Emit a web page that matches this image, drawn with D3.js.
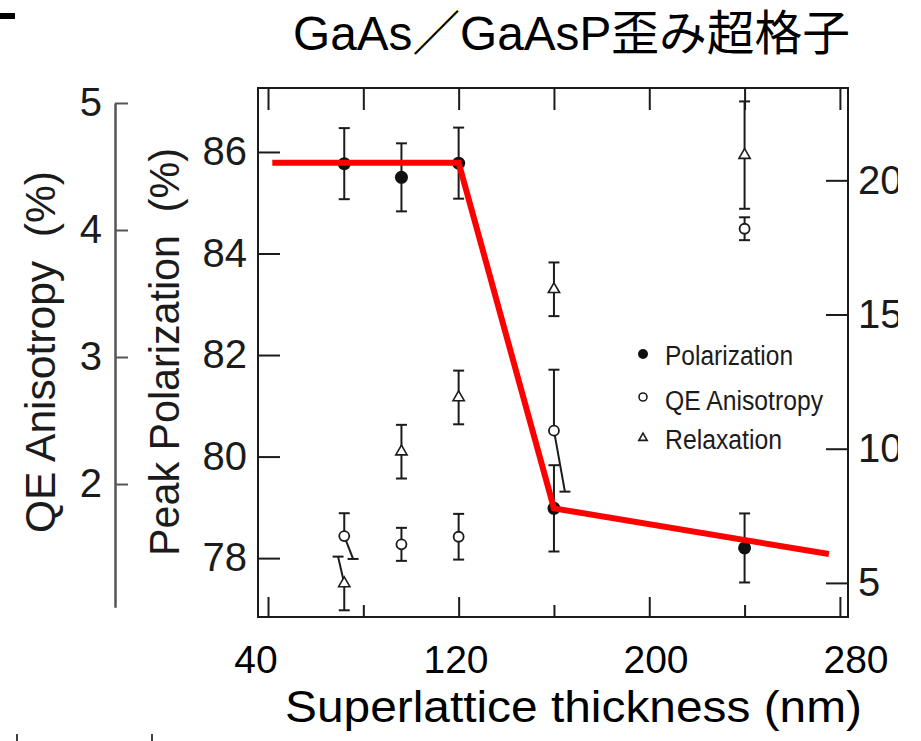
<!DOCTYPE html>
<html>
<head>
<meta charset="utf-8">
<script src="https://cdn.jsdelivr.net/npm/d3@7"></script>
<style>
    body { margin: 0; background: #fff; }
    svg { display: block; }
</style>
</head>
<body>
<div id="chart"></div>
<script>
// Data
const thickness = [72, 96, 120, 160, 240];
const polarization = [85.77, 85.5, 85.78, 78.98, 78.2];
const polarizationErr = [0.7, 0.67, 0.7, 0.85, 0.68];
const qeAnisotropy = [1.59, 1.525, 1.585, 2.42, 4.01];
const qeErr = [0.18, 0.13, 0.18, 0.48, 0.09];
const relaxation = [4.98, 9.89, 11.91, 15.94, 20.94];
const relaxationErr = [1.0, 1.0, 1.0, 1.0, 2.0];
// bars that were drawn slanted in the scan (end shifted in nm)
const qeLowShift = [3.7, 0, 0, 4.6, 0];
const relaxUpShift = [-2.6, 0, 0, 0, 0];

// red trend line overlay
const trendX = [41.8, 120, 160, 275.4];
const trendY = [85.79, 85.79, 78.98, 78.08];

const xTicks = [40, 80, 120, 160, 200, 240, 280];
const xTickLabels = [40, 120, 200, 280];
const polTicks = [78, 80, 82, 84, 86];
const qeTicks = [2, 3, 4, 5];
const relaxTicks = [5, 10, 15, 20];
const legendLabels = ['Polarization', 'QE Anisotropy', 'Relaxation'];

const title = 'GaAs／GaAsP歪み超格子';
const xTitle = 'Superlattice thickness (nm)';
const polTitle = 'Peak Polarization  (%)';
const qeTitle = 'QE Anisotropy  (%)';

const width = 921;
const height = 741;
const ink = '#1b1b1b';
const font = '"Liberation Sans", Arial, Helvetica, sans-serif';

const svg = d3.select('#chart')
    .append('svg')
    .attr('width', width)
    .attr('height', height)
    .attr('viewBox', [0, 0, width, height])
    .attr('font-family', font);

// the scan is cut off on the right, through the right axis labels
svg.append('defs')
    .append('clipPath')
    .attr('id', 'scan-clip')
    .append('rect')
    .attr('x', 0).attr('y', 0)
    .attr('width', 898).attr('height', height);

const frame = { left: 258, right: 848, top: 88, bottom: 617 };

const x = d3.scaleLinear().domain([35.8, 283.4]).range([frame.left, frame.right]);
const yPol = d3.scaleLinear().domain([76.84, 87.26]).range([frame.bottom, frame.top]);
const yRel = d3.scaleLinear().domain([3.73, 23.44]).range([frame.bottom, frame.top]);
const yQE = d3.scaleLinear().domain([0.953, 5.118]).range([frame.bottom, frame.top]);
// overlay tick labels are placed a little off the scanned ticks
const xLabel = d3.scaleLinear().domain([40, 280]).range([256, 856]);

// frame
svg.append('rect')
    .attr('x', frame.left)
    .attr('y', frame.top)
    .attr('width', frame.right - frame.left)
    .attr('height', frame.bottom - frame.top)
    .attr('fill', 'none')
    .attr('stroke', ink)
    .attr('stroke-width', 2);

function styleAxis(g, size) {
    g.select('.domain').remove();
    g.selectAll('line').attr('stroke', ink).attr('stroke-width', 2);
    g.selectAll('text')
        .attr('font-family', font)
        .attr('font-size', size)
        .attr('fill', ink);
}

// peak polarization axis (left of frame)
svg.append('g')
    .attr('transform', `translate(${frame.left},0)`)
    .call(d3.axisLeft(yPol).tickValues(polTicks).tickSizeInner(-22).tickSizeOuter(0).tickPadding(11))
    .call(g => styleAxis(g, 40));

// relaxation axis (right of frame), clipped like the scan
svg.append('g')
    .attr('clip-path', 'url(#scan-clip)')
    .append('g')
    .attr('transform', `translate(${frame.right},0)`)
    .call(d3.axisRight(yRel).tickValues(relaxTicks).tickSizeInner(-22).tickSizeOuter(0).tickPadding(10))
    .call(g => styleAxis(g, 40));

// QE anisotropy axis (separate line further left)
const qeAxisScale = yQE.copy().domain([1.03, 5]).range([yQE(1.03), yQE(5)]);
const qeAxis = svg.append('g')
    .attr('transform', 'translate(115,0)')
    .call(d3.axisLeft(qeAxisScale).tickValues(qeTicks).tickFormat(d3.format('d'))
        .tickSizeInner(-13).tickSizeOuter(0).tickPadding(13));
qeAxis.select('.domain').attr('stroke', '#555').attr('stroke-width', 2.5);
qeAxis.selectAll('line').attr('stroke', '#555').attr('stroke-width', 2);
qeAxis.selectAll('text').attr('font-family', font).attr('font-size', 40).attr('fill', ink);

// top and bottom ticks of the frame
svg.append('g')
    .attr('transform', `translate(0,${frame.top})`)
    .call(d3.axisTop(x).tickValues(xTicks).tickSizeInner(-22).tickSizeOuter(0).tickFormat(''))
    .call(g => styleAxis(g, 10));

svg.append('g')
    .attr('transform', `translate(0,${frame.bottom})`)
    .call(d3.axisBottom(x).tickValues(xTicks).tickSizeInner(-20).tickSizeOuter(0).tickFormat(''))
    .call(g => styleAxis(g, 10))
    .call(g => g.selectAll('.tick line')
        .filter(d => !xTickLabels.includes(d))
        .attr('y2', -12));

// overlay x tick labels
svg.append('g')
    .selectAll('text')
    .data(xTickLabels)
    .join('text')
    .attr('x', d => xLabel(d))
    .attr('y', 673)
    .attr('text-anchor', 'middle')
    .attr('font-size', 39)
    .attr('fill', '#000')
    .text(d => d);

// axis titles
svg.append('text')
    .attr('x', 285)
    .attr('y', 722)
    .attr('font-size', 44)
    .attr('textLength', 577)
    .attr('lengthAdjust', 'spacingAndGlyphs')
    .attr('fill', '#000')
    .text(xTitle);

svg.append('text')
    .attr('transform', 'translate(179,352) rotate(-90)')
    .attr('text-anchor', 'middle')
    .attr('font-size', 42)
    .attr('textLength', 408)
    .attr('lengthAdjust', 'spacingAndGlyphs')
    .style('white-space', 'pre')
    .attr('fill', ink)
    .text(polTitle);

svg.append('text')
    .attr('transform', 'translate(55,352) rotate(-90)')
    .attr('text-anchor', 'middle')
    .attr('font-size', 42)
    .attr('textLength', 362)
    .attr('lengthAdjust', 'spacingAndGlyphs')
    .style('white-space', 'pre')
    .attr('fill', ink)
    .text(qeTitle);

// title
svg.append('text')
    .attr('x', 293)
    .attr('y', 50)
    .attr('font-family', '"Liberation Sans", "Noto Sans CJK JP", sans-serif')
    .attr('font-size', 48)
    .attr('textLength', 557)
    .attr('lengthAdjust', 'spacingAndGlyphs')
    .attr('fill', '#000')
    .text(title);

// error bars
function errorBars(values, errs, yScale, upShift, lowShift) {
    const g = svg.append('g').attr('stroke', ink).attr('stroke-width', 2).attr('fill', 'none');
    thickness.forEach((t, i) => {
        const x0 = x(t), y0 = yScale(values[i]);
        const ends = [
            [x(t + (upShift ? upShift[i] : 0)), yScale(values[i] + errs[i])],
            [x(t + (lowShift ? lowShift[i] : 0)), yScale(values[i] - errs[i])]
        ];
        ends.forEach(([xe, ye]) => {
            g.append('line').attr('x1', x0).attr('y1', y0).attr('x2', xe).attr('y2', ye);
            g.append('line').attr('x1', xe - 5.5).attr('x2', xe + 5.5).attr('y1', ye).attr('y2', ye);
        });
    });
}

errorBars(relaxation, relaxationErr, yRel, relaxUpShift, null);
errorBars(qeAnisotropy, qeErr, yQE, null, qeLowShift);
errorBars(polarization, polarizationErr, yPol, null, null);

const triangle = d3.symbol().type(d3.symbolTriangle);

// markers
svg.append('g')
    .selectAll('path')
    .data(thickness)
    .join('path')
    .attr('transform', (d, i) => `translate(${x(d)},${yRel(relaxation[i])})`)
    .attr('d', triangle.size(55)())
    .attr('fill', '#fff')
    .attr('stroke', ink)
    .attr('stroke-width', 1.6);

svg.append('g')
    .selectAll('circle')
    .data(thickness)
    .join('circle')
    .attr('cx', d => x(d))
    .attr('cy', (d, i) => yQE(qeAnisotropy[i]))
    .attr('r', 5)
    .attr('fill', '#fff')
    .attr('stroke', ink)
    .attr('stroke-width', 1.8);

svg.append('g')
    .selectAll('circle')
    .data(thickness)
    .join('circle')
    .attr('cx', d => x(d))
    .attr('cy', (d, i) => yPol(polarization[i]))
    .attr('r', 6.5)
    .attr('fill', '#111');

// legend
const legendY = [354, 397, 438];
const legendBase = [365, 410, 449];
const legendLen = [128, 158, 117];
const legend = svg.append('g');
legend.append('circle').attr('cx', 643).attr('cy', legendY[0]).attr('r', 5).attr('fill', '#111');
legend.append('circle').attr('cx', 643).attr('cy', legendY[1]).attr('r', 4).attr('fill', '#fff')
    .attr('stroke', ink).attr('stroke-width', 1.6);
legend.append('path').attr('transform', `translate(643,${legendY[2]})`)
    .attr('d', triangle.size(30)())
    .attr('fill', '#fff').attr('stroke', ink).attr('stroke-width', 1.6);
legend.selectAll('text')
    .data(legendLabels)
    .join('text')
    .attr('x', 665)
    .attr('y', (d, i) => legendBase[i])
    .attr('font-size', 27)
    .attr('textLength', (d, i) => legendLen[i])
    .attr('lengthAdjust', 'spacingAndGlyphs')
    .attr('fill', ink)
    .text(d => d);

// red trend line
svg.append('path')
    .datum(trendX.map((d, i) => [d, trendY[i]]))
    .attr('d', d3.line().x(d => x(d[0])).y(d => yPol(d[1])))
    .attr('fill', 'none')
    .attr('stroke', '#ff0000')
    .attr('stroke-width', 6);

// small marks left on the slide
svg.append('rect').attr('x', 0).attr('y', 13).attr('width', 15).attr('height', 6).attr('fill', '#000');
svg.append('g').attr('stroke', '#000').attr('stroke-width', 1.5)
    .selectAll('line')
    .data([17, 152])
    .join('line')
    .attr('x1', d => d).attr('x2', d => d)
    .attr('y1', 734).attr('y2', 741);
</script>
</body>
</html>
